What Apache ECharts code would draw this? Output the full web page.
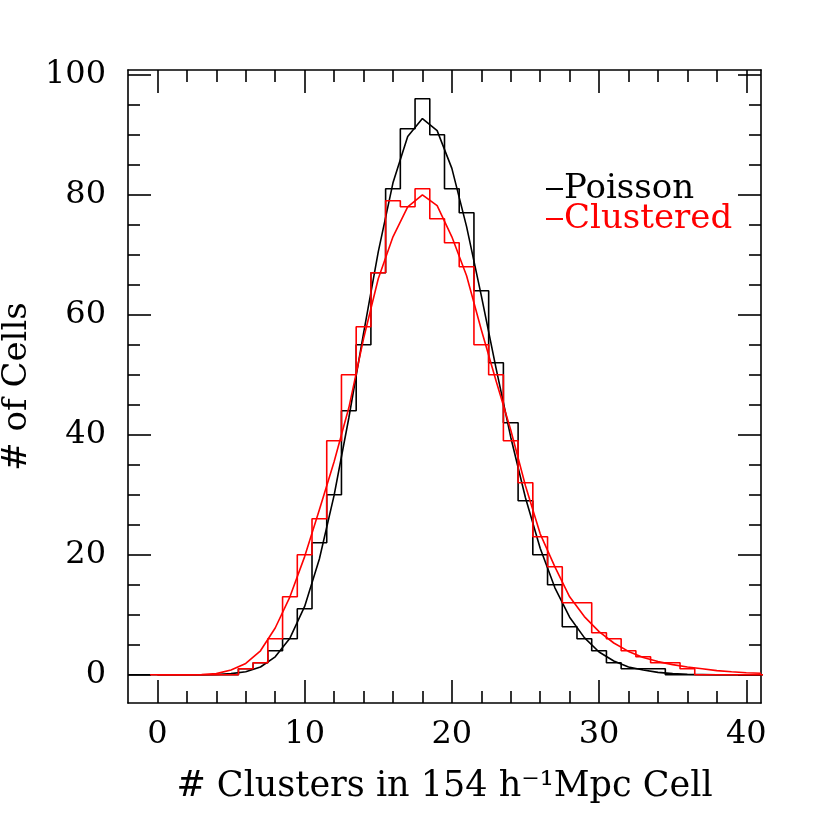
<!DOCTYPE html>
<html>
<head>
<meta charset="utf-8">
<title>Clusters per Cell</title>
<style>
  html, body { margin: 0; padding: 0; background: #fff; }
  #main { width: 830px; height: 830px; }
</style>
</head>
<body>
<div id="main"></div>
<script src="https://cdn.jsdelivr.net/npm/echarts@6.0.0/dist/echarts.min.js"></script>
<script>
// number of clusters in a cell (histogram bins, centred on integers)
var bins = [0, 1, 2, 3, 4, 5, 6, 7, 8, 9, 10, 11, 12, 13, 14, 15, 16, 17, 18, 19, 20,
  21, 22, 23, 24, 25, 26, 27, 28, 29, 30, 31, 32, 33, 34, 35, 36, 37, 38, 39, 40, 41];

// histogram counts
var poissonHist = [0, 0, 0, 0, 0, 0, 1, 2, 4, 6, 11, 22, 30, 44, 55, 67, 81, 91, 96, 90, 81,
  77, 64, 52, 42, 29, 20, 15, 8, 6, 4, 2, 1, 1, 1, 0, 0, 0, 0, 0, 0, 0];
var clusteredHist = [0, 0, 0, 0, 0, 0, 1, 2, 6, 13, 20, 26, 39, 50, 58, 67, 79, 78, 81, 76, 72,
  68, 55, 50, 39, 32, 23, 18, 12, 12, 7, 6, 4, 3, 2, 2, 1, 0, 0, 0, 0, 0];

// smooth model curves at the same integers
var poissonCurve = [0, 0, 0, 0, 0.05, 0.2, 0.5, 1.3, 3.0, 6.1, 11.4, 19.3, 29.9, 42.8, 56.9, 70.5, 82.0, 89.7, 92.7, 90.7, 84.4,
  74.7, 63.2, 51.1, 39.6, 29.5, 21.1, 14.5, 9.6, 6.2, 3.8, 2.3, 1.3, 0.8, 0.4, 0.2, 0.1, 0.05, 0, 0, 0, 0];
var clusteredCurve = [0, 0, 0, 0.05, 0.2, 0.8, 1.9, 4.0, 7.8, 13.0, 19.7, 27.5, 35.5, 44.5, 56, 66, 73, 78, 80, 78.2, 73,
  66.5, 57.5, 49, 40.8, 31.5, 23.5, 18, 13, 9.7, 7.2, 5.3, 3.9, 2.9, 2.2, 1.7, 1.3, 1.0, 0.7, 0.5, 0.35, 0.25];

// tick positions
var xMajor = [0, 10, 20, 30, 40];
var xMinor = [2, 4, 6, 8, 12, 14, 16, 18, 22, 24, 26, 28, 32, 34, 36, 38];
var yMajor = [0, 20, 40, 60, 80, 100];
var yMinor = [5, 10, 15, 25, 30, 35, 45, 50, 55, 65, 70, 75, 85, 90, 95];

var xMin = -2, xMax = 41;
var yMin = -4.7, yMax = 100.8;
var font = "DejaVu Serif";

// outline of a histogram: one step per bin edge
function stepData(counts, startAt) {
  var d = [];
  if (startAt !== undefined) d.push([startAt, 0]);
  for (var i = 0; i < bins.length; i++) {
    d.push([bins[i] - 0.5, counts[i]]);
  }
  d.push([bins[bins.length - 1] + 0.5, counts[counts.length - 1]]);
  return d;
}
function curveData(vals) {
  return bins.map(function (b, i) { return [b, vals[i]]; });
}

function tickAxis(pos, vmin, vmax, ticks, len, withLine, labels) {
  return {
    type: "value",
    position: pos,
    min: vmin,
    max: vmax,
    axisLine: { show: withLine, onZero: false, lineStyle: { color: "#000", width: 1.6 } },
    axisTick: {
      show: true,
      inside: true,
      length: len,
      customValues: ticks,
      lineStyle: { color: "#000", width: 1.6 },
    },
    axisLabel: labels
      ? {
          show: true,
          customValues: labels,
          color: "#000",
          fontFamily: font,
          fontSize: 32,
          margin: pos === "bottom" ? 16 : 22,
        }
      : { show: false },
    splitLine: { show: false },
  };
}

var dom = document.getElementById("main");
var myChart = echarts.init(dom, null, { renderer: "canvas" });

var xMain = tickAxis("bottom", xMin, xMax, xMajor, 23, true, xMajor);
xMain.name = "# Clusters in 154 h\u207B\u00B9Mpc Cell";
xMain.nameLocation = "middle";
xMain.nameGap = 66;
xMain.nameTextStyle = { color: "#000", fontFamily: font, fontSize: 35 };

var yMain = tickAxis("left", yMin, yMax, yMajor, 23, true, yMajor);
yMain.name = "# of Cells";
yMain.nameLocation = "middle";
yMain.nameRotate = 90;
yMain.nameGap = 86;
yMain.nameTextStyle = { color: "#000", fontFamily: font, fontSize: 34 };

var option = {
  animation: false,
  backgroundColor: "#fff",
  grid: { left: 128, top: 70, right: 69, bottom: 127, outerBoundsMode: "none", containLabel: false },
  legend: {
    orient: "vertical",
    left: 541,
    top: 167,
    itemGap: -4,
    itemWidth: 17,
    itemHeight: 2,
    icon: "rect",
    textStyle: { fontFamily: font, fontSize: 34, lineHeight: 30, padding: [0, 0, 0, -4] },
    data: [
      { name: "Poisson", textStyle: { color: "#000" } },
      { name: "Clustered", textStyle: { color: "#ff0000" } },
    ],
  },
  xAxis: [
    xMain,
    tickAxis("bottom", xMin, xMax, xMinor, 12, false),
    tickAxis("top", xMin, xMax, xMajor, 23, true),
    tickAxis("top", xMin, xMax, xMinor, 12, false),
  ],
  yAxis: [
    yMain,
    tickAxis("left", yMin, yMax, yMinor, 12, false),
    tickAxis("right", yMin, yMax, yMajor, 23, true),
    tickAxis("right", yMin, yMax, yMinor, 12, false),
  ],
  series: [
    {
      name: "Poisson",
      type: "line",
      step: "end",
      data: stepData(poissonHist, xMin),
      showSymbol: false,
      color: "#000",
      lineStyle: { color: "#000", width: 1.6 },
    },
    {
      name: "Poisson",
      type: "line",
      data: curveData(poissonCurve),
      showSymbol: false,
      color: "#000",
      lineStyle: { color: "#000", width: 1.6 },
    },
    {
      name: "Clustered",
      type: "line",
      step: "end",
      data: stepData(clusteredHist),
      showSymbol: false,
      color: "#ff0000",
      lineStyle: { color: "#ff0000", width: 1.6 },
    },
    {
      name: "Clustered",
      type: "line",
      data: curveData(clusteredCurve),
      showSymbol: false,
      color: "#ff0000",
      lineStyle: { color: "#ff0000", width: 1.6 },
    },
  ],
};

if (option && typeof option === "object") {
  myChart.setOption(option);
}
window.addEventListener("resize", myChart.resize);
</script>
</body>
</html>
